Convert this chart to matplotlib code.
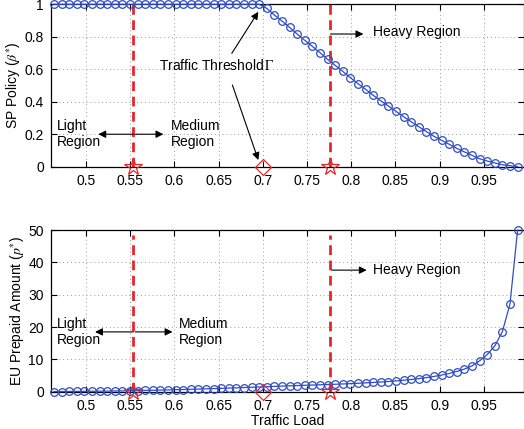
import numpy as np
import matplotlib
matplotlib.use('Agg')
import matplotlib.pyplot as plt
from matplotlib.ticker import FormatStrFormatter

plt.rcParams['font.family'] = ['Liberation Sans', 'DejaVu Sans']
plt.rcParams['mathtext.fontset'] = 'stix'
plt.rcParams['font.size'] = 10

# traffic load samples
load = np.linspace(0.464, 0.988, 62)

# SP policy beta*: flat at 1 up to the threshold, then falling off
beta = [1.0]*28 + [0.975, 0.934, 0.897, 0.858, 0.817, 0.778, 0.741, 0.702,
                   0.661, 0.624, 0.587, 0.548, 0.511, 0.477, 0.440, 0.406,
                   0.374, 0.341, 0.308, 0.277, 0.246, 0.216, 0.187, 0.163,
                   0.138, 0.113, 0.091, 0.070, 0.049, 0.035, 0.023, 0.012,
                   0.006, 0.0]

# EU prepaid amount p*
prepaid = [0.05, 0.06, 0.08, 0.10, 0.12, 0.14, 0.17, 0.20, 0.23, 0.27,
           0.31, 0.35, 0.40, 0.45, 0.50, 0.56, 0.62, 0.68, 0.75, 0.82,
           0.89, 0.96, 1.04, 1.12, 1.20, 1.29, 1.38, 1.47, 1.56, 1.65,
           1.74, 1.82, 1.90, 1.98, 2.06, 2.14, 2.22, 2.31, 2.40, 2.50,
           2.61, 2.73, 2.86, 3.00, 3.16, 3.34, 3.55, 3.79, 4.06, 4.36,
           4.72, 5.15, 5.65, 6.25, 7.0, 8.0, 9.55, 11.5, 14.15, 18.6,
           27.15, 50.0]

light_medium = 0.5538
medium_heavy = 0.776
threshold = 0.70

blue = '#2f4cc4'
red = '#e8262a'

fig = plt.figure(figsize=(5.24, 4.29), dpi=100)
ax1 = fig.add_axes([0.0968, 0.6114, 0.9023, 0.3786])
ax2 = fig.add_axes([0.0968, 0.0869, 0.9023, 0.3769])


def style(ax, ymax):
    ax.set_xlim(0.4604, 0.9947)
    ax.set_ylim(0, ymax)
    ax.set_xticks([0.5, 0.55, 0.6, 0.65, 0.7, 0.75, 0.8, 0.85, 0.9, 0.95])
    ax.xaxis.set_major_formatter(FormatStrFormatter('%g'))
    ax.yaxis.set_major_formatter(FormatStrFormatter('%g'))
    ax.tick_params(direction='in', top=True, right=True, length=4,
                   width=0.8, labelsize=10, pad=5)
    ax.grid(True, linestyle=(0, (1, 3)), color='#999999', linewidth=0.7)
    for s in ax.spines.values():
        s.set_linewidth(0.9)


def arrow(ax, tail, head):
    ax.annotate('', xy=head, xytext=tail,
                arrowprops=dict(arrowstyle='-|>', color='k', lw=0.8,
                                mutation_scale=11, shrinkA=0, shrinkB=0))


# ---- top: SP policy
style(ax1, 1)
ax1.set_yticks([0, 0.2, 0.4, 0.6, 0.8, 1])
ax1.plot(load, beta, '-o', color=blue, lw=0.9, ms=5.5, mfc='none', mew=0.9,
         clip_on=False, zorder=3)
for xv in (light_medium, medium_heavy):
    ax1.plot([xv, xv], [0, 1], '--', color=red, lw=2, dashes=(3.5, 2))
    ax1.plot(xv, 0, '*', ms=13, mfc='none', mec=red, mew=0.9, clip_on=False, zorder=4)
ax1.plot(threshold, 0, 'D', ms=8.5, mfc='none', mec=red, mew=0.9, clip_on=False, zorder=4)
ax1.set_ylabel(r'SP Policy ($\beta^{*}$)', fontsize=10, labelpad=1)

ax1.text(0.467, 0.201, 'Light\nRegion', ha='left', va='center', linespacing=1.2)
ax1.text(0.596, 0.201, 'Medium\nRegion', ha='left', va='center', linespacing=1.2)
arrow(ax1, (light_medium, 0.2), (0.5142, 0.2))
arrow(ax1, (light_medium + 0.002, 0.2), (0.5877, 0.2))
ax1.text(0.5832, 0.626, r'Traffic Threshold$\,\Gamma$', ha='left', va='center')
arrow(ax1, (0.665, 0.698), (0.695, 0.954))
arrow(ax1, (0.6657, 0.503), (0.695, 0.041))
ax1.text(0.825, 0.831, 'Heavy Region', ha='left', va='center')
arrow(ax1, (0.7765, 0.817), (0.8137, 0.817))

# ---- bottom: EU prepaid amount
style(ax2, 50)
ax2.set_yticks([0, 10, 20, 30, 40, 50])
ax2.plot(load, prepaid, '-o', color=blue, lw=0.9, ms=5.5, mfc='none', mew=0.9,
         clip_on=False, zorder=3)
for xv in (light_medium, medium_heavy):
    ax2.plot([xv, xv], [0, 48.5], '--', color=red, lw=2, dashes=(3.5, 2))
    ax2.plot(xv, 0, '*', ms=13, mfc='none', mec=red, mew=0.9, clip_on=False, zorder=4)
ax2.plot(threshold, 0, 'D', ms=8.5, mfc='none', mec=red, mew=0.9, clip_on=False, zorder=4)
ax2.set_ylabel(r'EU Prepaid Amount ($p^{*}$)', fontsize=10, labelpad=1)
ax2.set_xlabel('Traffic Load', fontsize=10, labelpad=1)

ax2.text(0.467, 18.5, 'Light\nRegion', ha='left', va='center', linespacing=1.2)
ax2.text(0.6054, 18.5, 'Medium\nRegion', ha='left', va='center', linespacing=1.2)
arrow(ax2, (light_medium, 18.5), (0.5105, 18.5))
arrow(ax2, (light_medium + 0.002, 18.5), (0.598, 18.5))
ax2.text(0.825, 37.6, 'Heavy Region', ha='left', va='center')
arrow(ax2, (0.778, 37.6), (0.8175, 37.6))

fig.savefig('out.png', dpi=100)
